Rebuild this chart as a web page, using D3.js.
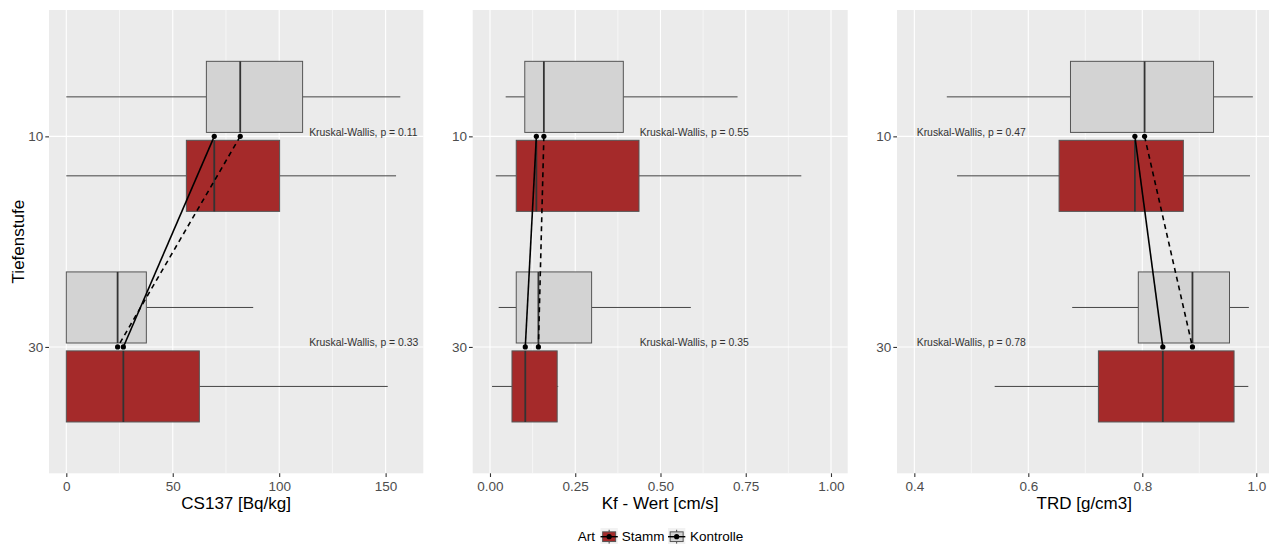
<!DOCTYPE html>
<html><head><meta charset="utf-8">
<script src="https://cdn.jsdelivr.net/npm/d3@7"></script>
<style>
body{margin:0;background:#fff;overflow:hidden}
svg{display:block;font-family:"Liberation Sans",Arial,sans-serif}
</style>
</head><body>
<svg id="c" width="1269" height="544"></svg>
<script>
// ---------- data ----------
const depths = ["10", "30"];                 // Tiefenstufe categories
const groups = ["Kontrolle", "Stamm"];       // Art
// five-number summaries [lower whisker, Q1, median, Q3, upper whisker], one per depth
const cs137Stamm     = [[0, 56.4, 69.5, 100.2, 154.9], [0, 0, 26.8, 62.5, 151.0]];
const cs137Kontrolle = [[0, 65.8, 81.7, 111.0, 156.9], [0, 0, 24.1, 37.6, 87.8]];
const kfStamm        = [[0.017, 0.077, 0.136, 0.437, 0.913], [0.006, 0.0645, 0.1035, 0.197, 0.200]];
const kfKontrolle    = [[0.046, 0.102, 0.158, 0.391, 0.726], [0.0255, 0.077, 0.142, 0.298, 0.589]];
const trdStamm       = [[0.475, 0.654, 0.787, 0.872, 0.989], [0.541, 0.723, 0.836, 0.961, 0.986]];
const trdKontrolle   = [[0.457, 0.674, 0.804, 0.925, 0.994], [0.677, 0.793, 0.888, 0.953, 0.987]];
// Kruskal-Wallis p-values per depth
const cs137P = ["0.11", "0.33"];
const kfP    = ["0.55", "0.35"];
const trdP   = ["0.47", "0.78"];
// label anchor (data units) of the p-value texts
const cs137LabelX = 114.1;
const kfLabelX    = 0.439;
const trdLabelX   = 0.4042;
// axis domains and ticks
const cs137Domain = [-8.13, 167.7];
const kfDomain    = [-0.0507, 1.049];
const trdDomain   = [0.3696, 1.0267];
const cs137Ticks = [0, 50, 100, 150];
const cs137Minor = [25, 75, 125];
const kfTicks = [0, 0.25, 0.5, 0.75, 1.0];
const kfMinor = [0.125, 0.375, 0.625, 0.875];
const trdTicks = [0.4, 0.6, 0.8, 1.0];
const trdMinor = [0.5, 0.7, 0.9];
const cs137TickLabels = ["0", "50", "100", "150"];
const kfTickLabels = ["0.00", "0.25", "0.50", "0.75", "1.00"];
const trdTickLabels = ["0.4", "0.6", "0.8", "1.0"];
const xTitles = ["CS137 [Bq/kg]", "Kf - Wert [cm/s]", "TRD [g/cm3]"];
const yTitle = "Tiefenstufe";
const legendTitle = "Art";
const legendLabels = ["Stamm", "Kontrolle"];

// ---------- layout ----------
const svg = d3.select("#c");
const plotTop = 10, plotBottom = 473.3;
const panelRanges = [[49, 423.3], [472.7, 847.7], [897, 1271.5]];
const fills = {Stamm: "#A52A2A", Kontrolle: "#D3D3D3"};
const dashes = {Stamm: null, Kontrolle: "5,4"};

const panels = [
  {data: {Stamm: cs137Stamm, Kontrolle: cs137Kontrolle}, domain: cs137Domain, ticks: cs137Ticks, minor: cs137Minor, labels: cs137TickLabels, p: cs137P, lx: cs137LabelX, title: xTitles[0]},
  {data: {Stamm: kfStamm, Kontrolle: kfKontrolle}, domain: kfDomain, ticks: kfTicks, minor: kfMinor, labels: kfTickLabels, p: kfP, lx: kfLabelX, title: xTitles[1]},
  {data: {Stamm: trdStamm, Kontrolle: trdKontrolle}, domain: trdDomain, ticks: trdTicks, minor: trdMinor, labels: trdTickLabels, p: trdP, lx: trdLabelX, title: xTitles[2]}
];

const y = d3.scalePoint().domain(depths).range([plotTop, plotBottom]).padding(0.6);
const slot = y.step() * 0.75 / 2;
const boxH = slot * 0.9;
const off = {Kontrolle: -slot / 2, Stamm: slot / 2};

panels.forEach((p, pi) => {
  const r = panelRanges[pi];
  const x = d3.scaleLinear().domain(p.domain).range(r);
  const g = svg.append("g");
  g.append("rect").attr("x", r[0]).attr("y", plotTop)
    .attr("width", r[1] - r[0]).attr("height", plotBottom - plotTop).attr("fill", "#EBEBEB");
  g.selectAll(".minor").data(p.minor).join("line")
    .attr("x1", d => x(d)).attr("x2", d => x(d)).attr("y1", plotTop).attr("y2", plotBottom)
    .attr("stroke", "#fff").attr("stroke-width", 0.55);
  g.selectAll(".major").data(p.ticks).join("line")
    .attr("x1", d => x(d)).attr("x2", d => x(d)).attr("y1", plotTop).attr("y2", plotBottom)
    .attr("stroke", "#fff").attr("stroke-width", 1.1);
  g.selectAll(".ymajor").data(depths).join("line")
    .attr("x1", r[0]).attr("x2", r[1]).attr("y1", d => y(d)).attr("y2", d => y(d))
    .attr("stroke", "#fff").attr("stroke-width", 1.1);

  // boxplots
  groups.forEach(gr => {
    depths.forEach((dep, i) => {
      const s = p.data[gr][i];
      const cy = y(dep) + off[gr];
      const bg = g.append("g");
      bg.append("line").attr("x1", x(s[0])).attr("x2", x(s[1])).attr("y1", cy).attr("y2", cy)
        .attr("stroke", "#444").attr("stroke-width", 1);
      bg.append("line").attr("x1", x(s[3])).attr("x2", x(s[4])).attr("y1", cy).attr("y2", cy)
        .attr("stroke", "#444").attr("stroke-width", 1);
      bg.append("rect").attr("x", x(s[1])).attr("y", cy - boxH / 2)
        .attr("width", x(s[3]) - x(s[1])).attr("height", boxH)
        .attr("fill", fills[gr]).attr("stroke", "#555").attr("stroke-width", 1);
      bg.append("line").attr("x1", x(s[2])).attr("x2", x(s[2]))
        .attr("y1", cy - boxH / 2).attr("y2", cy + boxH / 2)
        .attr("stroke", "#333").attr("stroke-width", 1.8);
    });
  });

  // median connecting lines and points
  groups.forEach(gr => {
    const pts = depths.map((dep, i) => ({x: p.data[gr][i][2], d: dep}));
    g.append("path").datum(pts)
      .attr("d", d3.line().x(d => x(d.x)).y(d => y(d.d)))
      .attr("fill", "none").attr("stroke", "#000").attr("stroke-width", 1.6)
      .attr("stroke-dasharray", dashes[gr]);
    g.selectAll(null).data(pts).join("circle")
      .attr("cx", d => x(d.x)).attr("cy", d => y(d.d)).attr("r", 2.6).attr("fill", "#000");
  });

  // p-value labels
  g.selectAll(".pl").data(depths).join("text")
    .attr("x", x(p.lx)).attr("y", d => y(d) - 0.5)
    .attr("font-size", 10.4).attr("fill", "#333")
    .text((d, i) => "Kruskal-Wallis, p = " + p.p[i]);

  // x axis
  const xa = g.append("g").attr("transform", `translate(0,${plotBottom})`)
    .call(d3.axisBottom(x).tickValues(p.ticks).tickFormat((d, i) => p.labels[i])
      .tickSize(3.7).tickPadding(4.9));
  xa.select(".domain").remove();
  xa.selectAll(".tick line").attr("stroke", "#333").attr("stroke-width", 1.1);
  xa.selectAll(".tick text").attr("fill", "#4D4D4D").attr("font-size", 13.5)
    .attr("font-family", "Liberation Sans, Arial, sans-serif");

  // y axis
  const ya = g.append("g").attr("transform", `translate(${r[0]},0)`)
    .call(d3.axisLeft(y).tickSize(3.7).tickPadding(2.0));
  ya.select(".domain").remove();
  ya.selectAll(".tick line").attr("stroke", "#333").attr("stroke-width", 1.1);
  ya.selectAll(".tick text").attr("fill", "#4D4D4D").attr("font-size", 13.5)
    .attr("font-family", "Liberation Sans, Arial, sans-serif");

  // x title
  g.append("text").attr("x", (r[0] + Math.min(r[1], 1269 + (r[1] - 1269))) / 2).attr("y", 503.3)
    .attr("dy", "0.35em").attr("text-anchor", "middle").attr("font-size", 17).attr("fill", "#000")
    .text(p.title);
});

// y title
svg.append("text").attr("transform", `translate(18.3,${(plotTop + plotBottom) / 2}) rotate(-90)`)
  .attr("dy", "0.35em").attr("text-anchor", "middle").attr("font-size", 17).attr("fill", "#000")
  .text(yTitle);

// legend
const ly = 536.7;
const lg = svg.append("g");
lg.append("text").attr("x", 577.7).attr("y", ly).attr("dy", "0.35em")
  .attr("font-size", 13.5).attr("fill", "#000").text(legendTitle);
const keyX = [600.5, 668];
const labX = [621.7, 690];
legendLabels.forEach((lab, i) => {
  const k = 17.3, kx = keyX[i], ky = ly - k / 2;
  const kg = lg.append("g");
  kg.append("rect").attr("x", kx).attr("y", ky).attr("width", k).attr("height", k).attr("fill", "#F2F2F2");
  kg.append("line").attr("x1", kx + k / 2).attr("x2", kx + k / 2).attr("y1", ky + k * 0.1).attr("y2", ky + k * 0.9)
    .attr("stroke", "#444");
  kg.append("rect").attr("x", kx + k * 0.125).attr("y", ky + k * 0.22).attr("width", k * 0.75).attr("height", k * 0.56)
    .attr("fill", fills[lab]).attr("stroke", "#555");
  kg.append("line").attr("x1", kx).attr("x2", kx + k).attr("y1", ly).attr("y2", ly)
    .attr("stroke", "#000").attr("stroke-width", 1.4);
  kg.append("circle").attr("cx", kx + k / 2).attr("cy", ly).attr("r", 2.6).attr("fill", "#000");
  lg.append("text").attr("x", labX[i]).attr("y", ly).attr("dy", "0.35em")
    .attr("font-size", 13.5).attr("fill", "#000").text(lab);
});
</script>
</body></html>
